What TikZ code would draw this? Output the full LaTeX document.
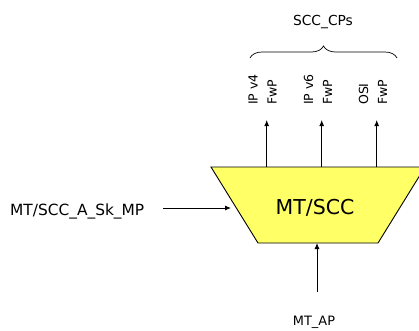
\documentclass[tikz,border=0pt]{standalone}
\usepackage{fontspec}
\setmainfont{DejaVu Sans}
\usetikzlibrary{arrows.meta,decorations.pathreplacing}
\definecolor{boxyellow}{HTML}{FFFF66}
\tikzset{
  conn/.style={line width=0.9pt,-{Latex[length=6pt,width=5pt]}},
  lbl/.style={inner sep=0pt,anchor=base},
  rot/.style={inner sep=0pt,rotate=90,anchor=west,align=left,font=\fontsize{12.5}{19}\selectfont},
}
\begin{document}
\begin{tikzpicture}[x=1pt,y=1pt]
\useasboundingbox (0,0) rectangle (419,-330);
\clip (0,0) rectangle (419,-330);
% trapezoid
\coordinate (tl) at (211,-167);
\coordinate (tr) at (425,-167);
\coordinate (br) at (378,-243);
\coordinate (bl) at (258,-243);
\draw[fill=boxyellow,line width=0.9pt] (tl) -- (tr) -- (br) -- (bl) -- cycle;
\node[lbl,font=\fontsize{20.5}{24}\selectfont] (mt) at (315,-214) {MT/SCC};
% top outputs
\coordinate (o1) at (266.7,-167);
\coordinate (o2) at (321.7,-167);
\coordinate (o3) at (376.7,-167);
\coordinate (e1) at (266.7,-120);
\coordinate (e2) at (321.7,-120);
\coordinate (e3) at (376.7,-120);
\draw[conn] (o1) -- (e1);
\draw[conn] (o2) -- (e2);
\draw[conn] (o3) -- (e3);
\node[rot] (p1) at (262.5,-105) {IP v4\\FwP};
\node[rot] (p2) at (318,-105) {IP v6\\FwP};
\node[rot] (p3) at (373,-105) {OSI\\FwP};
% brace
\coordinate (b1) at (250,-58);
\coordinate (b2) at (397,-58);
\draw[line width=0.7pt,decorate,decoration={brace,amplitude=12pt}] (b1) -- (b2);
\node[lbl,font=\fontsize{13.8}{16}\selectfont] (cps) at (323,-25) {SCC\_CPs};
% left input
\node[inner sep=0pt,anchor=base west,font=\fontsize{15.4}{18}\selectfont] (sk) at (10,-215.7) {MT/SCC\_A\_Sk\_MP};
\coordinate (li) at (163,-208);
\coordinate (lo) at (231,-208);
\draw[conn] (li) -- (lo);
% bottom input
\coordinate (bi) at (317,-292);
\coordinate (bo) at (317,-243);
\draw[conn] (bi) -- (bo);
\node[lbl,font=\fontsize{12.9}{15}\selectfont] (ap) at (314,-325) {MT\_AP};
\end{tikzpicture}
\end{document}
